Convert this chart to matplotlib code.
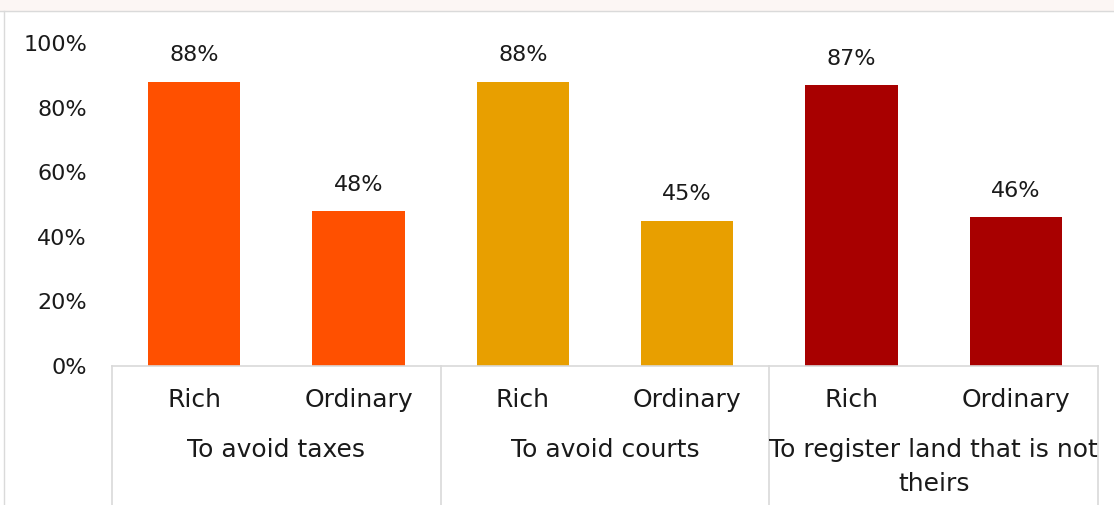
import numpy as np
import matplotlib
matplotlib.use("Agg")
import matplotlib.pyplot as plt
from matplotlib.transforms import blended_transform_factory

plt.rcParams['font.family'] = ['DejaVu Sans']

groups = ["To avoid taxes", "To avoid courts", "To register land that is not\ntheirs"]
subgroups = ["Rich", "Ordinary"]
values = [88, 48, 88, 45, 87, 46]
colors = ["#FF5000", "#FF5000", "#E89F00", "#E89F00", "#A80000", "#A80000"]
yticks = [0, 20, 40, 60, 80, 100]

W, H = 1114, 505
fig = plt.figure(figsize=(W / 100, H / 100), dpi=100)

# light frame and faint strip at the top like the source slide
fig.patches.append(plt.Rectangle((0, 494 / H), 1, 11 / H, transform=fig.transFigure,
                                 color="#FCF6F4", zorder=0))
fig.lines.append(plt.Line2D([0, 1], [494 / H, 494 / H], transform=fig.transFigure,
                            color="#DADADA", lw=1))
fig.lines.append(plt.Line2D([4 / W, 4 / W], [0, 494 / H], transform=fig.transFigure,
                            color="#DADADA", lw=1))

left, right, bottom, top = 112, 1098, 366, 43
ax = fig.add_axes([left / W, (H - bottom) / H, (right - left) / W, (bottom - top) / H])

txt = "#1a1a1a"
fs = 16
fs_cat = 18

x = np.arange(len(values))
ax.bar(x, values, width=0.56, color=colors, zorder=2)

for xi, v in zip(x, values):
    ax.annotate(f"{v}%", (xi, v), xytext=(0, 19), textcoords="offset points",
                ha="center", va="center", fontsize=fs, color=txt)

ax.set_xlim(-0.5, len(values) - 0.5)
ax.set_ylim(0, 100)
ax.set_yticks(yticks)
ax.set_yticklabels([f"{t}%" for t in yticks], fontsize=fs, color=txt)
ax.tick_params(axis="y", length=0, pad=18)
ax.set_xticks([])

for s in ["top", "right", "left"]:
    ax.spines[s].set_visible(False)
ax.spines["bottom"].set_color("#D9D9D9")
ax.spines["bottom"].set_linewidth(1.2)

trans = blended_transform_factory(ax.transData, ax.transAxes)
px = 1.0 / (bottom - top)  # one pixel in axes fraction

for sep in [-0.5, 1.5, 3.5, 5.5]:
    ax.plot([sep, sep], [0, -0.45], transform=trans, color="#D9D9D9", lw=1.2,
            clip_on=False)

for xi in x:
    ax.text(xi, -34 * px, subgroups[xi % 2], transform=trans, ha="center",
            va="center", fontsize=fs_cat, color=txt)

for gi, g in enumerate(groups):
    for li, line in enumerate(g.split("\n")):
        ax.text(2 * gi + 0.5, (-84 - 34 * li) * px, line, transform=trans,
                ha="center", va="center", fontsize=fs_cat, color=txt)

fig.savefig("out.png", dpi=100)
